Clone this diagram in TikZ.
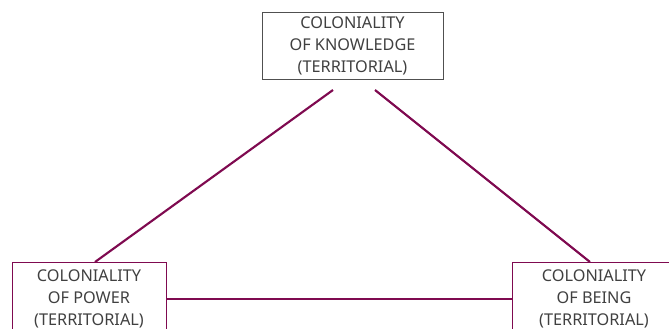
\documentclass[tikz,border=0pt]{standalone}
\usepackage{fontspec}
\setmainfont{Noto Sans}
\usepackage{xcolor}
\usepackage{tikz}
\usetikzlibrary{positioning}
\definecolor{plum}{HTML}{7F0A50}
\definecolor{boxgray}{HTML}{505050}
\definecolor{txtgray}{HTML}{404040}
\tikzset{
    base/.style={draw, rectangle, text centered, align=center, font=\fontsize{12.2}{16.5}\selectfont, text=txtgray, inner sep=0pt},
    topbox/.style={base, draw=boxgray, line width=0.75pt, minimum width=135.75pt, minimum height=50pt},
    cornerbox/.style={base, draw=plum, line width=0.75pt, minimum width=115.5pt, minimum height=55.5pt},
    link/.style={draw=plum, line width=1.6pt}
}

\begin{document}
\begin{tikzpicture}[x=0.75pt, y=-0.75pt]
        % Frame of the picture
        \useasboundingbox (0,0) rectangle (669,329);
        \clip (0,0) rectangle (669,329);

        % The three colonialities
        \node[topbox] (knowledge) at (352.5,46) {COLONIALITY\\OF KNOWLEDGE\\(TERRITORIAL)};
        \node[cornerbox] (power) at (89,299) {COLONIALITY\\OF POWER\\(TERRITORIAL)};
        \node[cornerbox, minimum width=123pt] (being) at (594,299) {COLONIALITY\\OF BEING\\(TERRITORIAL)};

        % Free ends under the top box
        \coordinate (kl) at (333,90);
        \coordinate (kr) at (375,90);
        \coordinate (pt) at (95,262);
        \coordinate (bt) at (590,262);

        % Triangle sides
        \draw[link] (kl) -- (pt);
        \draw[link] (kr) -- (bt);
        \draw[link] (power.east) -- (being.west);
    \end{tikzpicture}
\end{document}
